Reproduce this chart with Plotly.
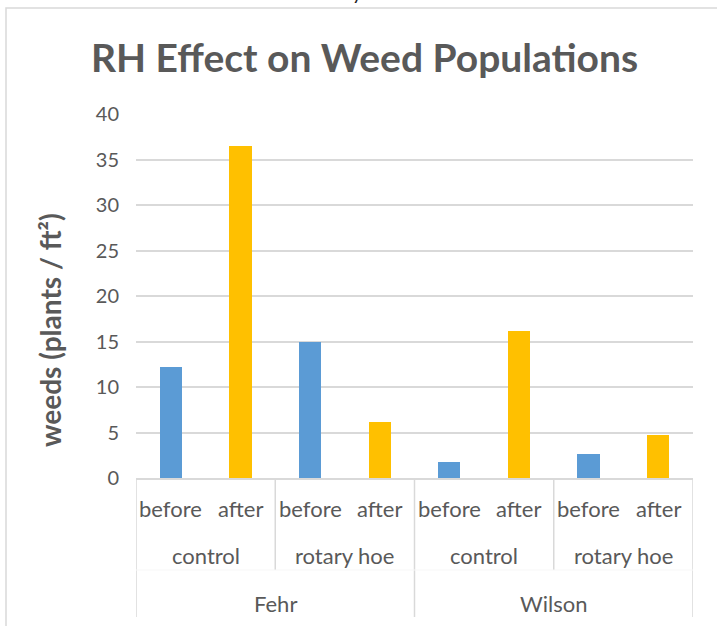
import plotly.graph_objects as go

# ---- data ----
sites = ["Fehr", "Wilson"]
treatments = ["control", "rotary hoe"]
timings = ["before", "after"]
weeds = [12.2, 36.5, 15.0, 6.1, 1.8, 16.2, 2.6, 4.7]
timing_colors = {"before": "#5B9BD5", "after": "#FFC000"}
y_ticks = [0, 5, 10, 15, 20, 25, 30, 35, 40]

# ---- derived category structure ----
rows = []
for s in sites:
    for t in treatments:
        for tm in timings:
            rows.append((s, t, tm))
xs = list(range(len(rows)))
colors = [timing_colors[r[2]] for r in rows]

FONT = "Lato"
TXT = "#595959"
GRID = "#D9D9D9"

W, H = 717, 626
ML, MR, MT, MB = 136, 24, 114, 148
PW = W - ML - MR
PH = H - MT - MB


def py(Y):  # pixel row -> paper y
    return (H - MB - Y) / PH


def px(X):  # pixel col -> paper x
    return (X - ML) / PW


fig = go.Figure(
    go.Bar(x=xs, y=weeds, marker=dict(color=colors, line=dict(width=0)),
           width=0.32, hoverinfo="y")
)

annotations = []
shapes = []


def label(x, xref, y, text, size, color=TXT, angle=0, yanchor="middle"):
    annotations.append(dict(x=x, xref=xref, y=y, yref="paper", text=text,
                            showarrow=False, xanchor="center", yanchor=yanchor,
                            textangle=angle,
                            font=dict(family=FONT, size=size, color=color)))


# level-1 labels (timing)
for i, r in enumerate(rows):
    label(i, "x", py(508), r[2], 22)
# level-2 labels (treatment)
n_t = len(timings)
for g in range(len(sites) * len(treatments)):
    label(g * n_t + (n_t - 1) / 2, "x", py(555), rows[g * n_t][1], 22)
# level-3 labels (site)
n_s = len(treatments) * len(timings)
for g in range(len(sites)):
    label(g * n_s + (n_s - 1) / 2, "x", py(603), sites[g], 22)

# dividers
for g in range(len(sites) * len(treatments) + 1):
    xb = g * n_t - 0.5
    is_site = (g * n_t) % n_s == 0
    shapes.append(dict(type="line", xref="x", yref="paper", x0=xb, x1=xb,
                       y0=0, y1=py(617) if is_site else py(570),
                       line=dict(color=GRID, width=1.5)))
shapes.append(dict(type="line", xref="x", yref="paper", x0=-0.5, x1=len(rows) - 0.5,
                   y0=py(570), y1=py(570), line=dict(color="#F7F7F7", width=1)))

# chart border
shapes.append(dict(type="rect", xref="paper", yref="paper", x0=px(6), x1=px(760),
                   y0=py(680), y1=py(8), line=dict(color=GRID, width=1.5),
                   fillcolor="rgba(0,0,0,0)", layer="below"))

# title
label(px(364.5), "paper", py(57), "<b>RH Effect on Weed Populations</b>", 39)
# y axis title
label(px(50), "paper", py(330), "<b>weeds (plants / ft²)</b>", 28, angle=-90)
# clipped text remnant at very top (as in the reference)
label(px(357), "paper", py(6), "y", 20, color="#222222", yanchor="bottom")

fig.update_layout(
    width=W, height=H,
    margin=dict(l=ML, r=MR, t=MT, b=MB, pad=0),
    paper_bgcolor="white", plot_bgcolor="white",
    showlegend=False,
    bargap=0,
    xaxis=dict(range=[-0.5, len(rows) - 0.5], showticklabels=False, showgrid=False,
               zeroline=False, showline=True, linecolor=GRID, linewidth=1.5, ticks=""),
    yaxis=dict(range=[0, 40], tickvals=y_ticks, showgrid=True, gridcolor=GRID, gridwidth=1.5,
               zeroline=False, showline=False, ticks="", ticklabelstandoff=16,
               tickfont=dict(family=FONT, size=20, color=TXT)),
    annotations=annotations,
    shapes=shapes,
)

fig.write_html("out.html", config={"displayModeBar": False},
               post_script="document.body.style.margin='0';")
